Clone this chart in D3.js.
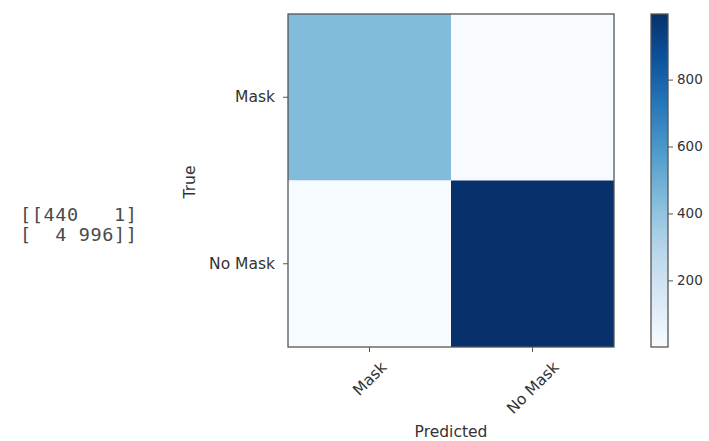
<!DOCTYPE html>
<html>
<head>
<meta charset="utf-8">
<script src="https://cdn.jsdelivr.net/npm/d3@7"></script>
<style>
  body { margin: 0; background: #fff; }
  svg { display: block; }
</style>
</head>
<body>
<svg id="chart" width="709" height="441"></svg>
<script>
// Confusion matrix: rows are true labels, columns are predicted labels
const classes = ["Mask", "No Mask"];
const rowMask = [440, 1];
const rowNoMask = [4, 996];
const colorbarTicks = [200, 400, 600, 800];
const matrixText = ["[[440   1]", "[  4 996]]"];

const matrix = [rowMask, rowNoMask];
const cells = [];
matrix.forEach((row, i) => row.forEach((v, j) => cells.push({ t: classes[i], p: classes[j], v })));
const allVals = cells.map(d => d.v);
const vmin = d3.min(allVals), vmax = d3.max(allVals);

const SANS = "'DejaVu Sans', sans-serif";
const svg = d3.select("#chart");
const plotL = 288, plotR = 614, plotT = 14, plotB = 347;

const x = d3.scaleBand().domain(classes).range([plotL, plotR]);
const y = d3.scaleBand().domain(classes).range([plotT, plotB]);
const color = d3.scaleSequential(d3.interpolateBlues).domain([vmin, vmax]);

// Heatmap cells
svg.append("g").selectAll("rect").data(cells).join("rect")
  .attr("x", d => x(d.p)).attr("y", d => y(d.t))
  .attr("width", x.bandwidth()).attr("height", y.bandwidth())
  .attr("fill", d => color(d.v));

svg.append("rect").attr("x", plotL).attr("y", plotT)
  .attr("width", plotR - plotL).attr("height", plotB - plotT)
  .attr("fill", "none").attr("stroke", "#555").attr("stroke-width", 1.3);

// Bottom axis: labels rotated 45° about their own centre
const xAxis = svg.append("g").attr("transform", `translate(0,${plotB})`)
  .call(d3.axisBottom(x).tickSize(5).tickPadding(0));
xAxis.selectAll("text")
  .style("font-family", SANS).attr("font-size", 15.5)
  .attr("text-anchor", "middle").attr("y", 0).attr("dy", "0.36em")
  .attr("transform", function () {
    const w = this.getComputedTextLength();
    const h = 12;
    const cy = 13 + (w + h) / (2 * Math.SQRT2);
    return `translate(0,${cy}) rotate(-45)`;
  });

const yAxis = svg.append("g").attr("transform", `translate(${plotL},0)`)
  .call(d3.axisLeft(y).tickSize(5).tickPadding(8));
yAxis.selectAll("text").style("font-family", SANS).attr("font-size", 15.5);

[xAxis, yAxis].forEach(a => {
  a.select(".domain").remove();
  a.selectAll("line").attr("stroke", "#555");
  a.selectAll("text").attr("fill", "#333");
});

svg.append("text").attr("x", (plotL + plotR) / 2).attr("y", 437)
  .style("font-family", SANS).attr("fill", "#333")
  .attr("text-anchor", "middle").attr("font-size", 15.5).text("Predicted");
svg.append("text")
  .attr("transform", `translate(195,182) rotate(-90)`)
  .style("font-family", SANS).attr("fill", "#333")
  .attr("text-anchor", "middle").attr("font-size", 15.5).text("True");

// Colorbar
const cbLeft = 651, cbW = 17;
const defs = svg.append("defs");
const grad = defs.append("linearGradient").attr("id", "cbgrad")
  .attr("x1", 0).attr("y1", 1).attr("x2", 0).attr("y2", 0);
d3.range(0, 1.0001, 0.05).forEach(t => {
  grad.append("stop").attr("offset", t).attr("stop-color", d3.interpolateBlues(t));
});
svg.append("rect").attr("x", cbLeft).attr("y", plotT).attr("width", cbW)
  .attr("height", plotB - plotT).attr("fill", "url(#cbgrad)")
  .attr("stroke", "#555").attr("stroke-width", 1.3);

const cbScale = d3.scaleLinear().domain([vmin, vmax]).range([plotB, plotT]);
const cbAxis = svg.append("g").attr("transform", `translate(${cbLeft + cbW},0)`)
  .call(d3.axisRight(cbScale).tickValues(colorbarTicks).tickSize(5).tickPadding(4));
cbAxis.select(".domain").remove();
cbAxis.selectAll("line").attr("stroke", "#555");
cbAxis.selectAll("text").style("font-family", SANS).attr("font-size", 13.5).attr("fill", "#333");

// Printed matrix
svg.append("g").selectAll("text").data(matrixText).join("text")
  .attr("x", 20).attr("y", (d, i) => 221 + i * 20)
  .attr("xml:space", "preserve")
  .style("white-space", "pre")
  .style("font-family", "'DejaVu Sans Mono', monospace")
  .style("letter-spacing", "0.6px")
  .attr("font-size", 18.5).attr("fill", "#4a4a4a")
  .text(d => d);
</script>
</body>
</html>
